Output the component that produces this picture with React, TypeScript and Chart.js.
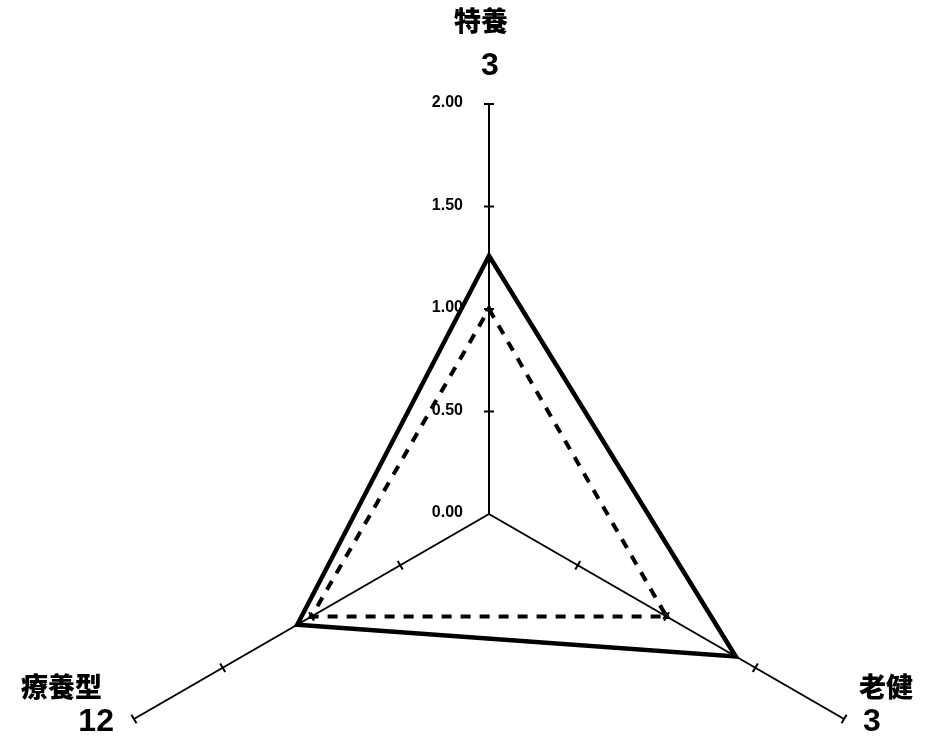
import React, { useEffect, useRef } from "react";
import { Chart, registerables } from "chart.js";

Chart.register(...registerables);

const categories = ["特養", "老健", "療養型"];
const facilityCounts = ["3", "3", "12"];
const actualValues = [1.26, 1.39, 1.08];
const baselineValues = [1.0, 1.0, 1.0];
const tickValues = [0, 0.5, 1.0, 1.5, 2.0];
const scaleMin = 0;
const scaleMax = 2;

// layout (not data)
const CENTER_X = 489;
const CENTER_Y = 514;
const RADIUS = 410;

const placeScale = {
  id: "placeScale",
  afterLayout(chart: any) {
    const s = chart.scales.r;
    s.xCenter = CENTER_X;
    s.yCenter = CENTER_Y;
    s.drawingArea = RADIUS;
  },
};

const axisDecor = {
  id: "axisDecor",
  beforeDatasetsDraw(chart: any) {
    const s = chart.scales.r;
    const ctx = chart.ctx;
    ctx.save();
    // tick marks on each axis
    ctx.strokeStyle = "#000";
    ctx.lineWidth = 2;
    for (let i = 0; i < categories.length; i++) {
      const ang = s.getIndexAngle(i) - Math.PI / 2;
      const px = -Math.sin(ang);
      const py = Math.cos(ang);
      for (const v of tickValues) {
        if (v === scaleMin) continue;
        const p = s.getPointPosition(i, s.getDistanceFromCenterForValue(v));
        ctx.beginPath();
        ctx.moveTo(p.x - px * 5, p.y - py * 5);
        ctx.lineTo(p.x + px * 5, p.y + py * 5);
        ctx.stroke();
      }
    }
    // tick labels left of the top axis
    ctx.fillStyle = "#000";
    ctx.font = "bold 16px 'Liberation Sans', Arial, sans-serif";
    ctx.textAlign = "right";
    ctx.textBaseline = "middle";
    for (const v of tickValues) {
      const p = s.getPointPosition(0, s.getDistanceFromCenterForValue(v));
      ctx.fillText(v.toFixed(2), p.x - 26, p.y - 1);
    }
    ctx.restore();
  },
  afterDraw(chart: any) {
    const s = chart.scales.r;
    const ctx = chart.ctx;
    ctx.save();
    ctx.fillStyle = "#000";
    ctx.textBaseline = "middle";
    const catFont = "900 27px 'Noto Sans CJK JP', sans-serif";
    const numFont = "bold 32px 'Liberation Sans', Arial, sans-serif";
    const ends = categories.map((_, i) =>
      s.getPointPosition(i, s.getDistanceFromCenterForValue(scaleMax))
    );
    // top
    ctx.textAlign = "center";
    ctx.font = catFont;
    ctx.fillText(categories[0], ends[0].x - 8, ends[0].y - 83);
    ctx.font = numFont;
    ctx.fillText(facilityCounts[0], ends[0].x + 1, ends[0].y - 38);
    // bottom right
    ctx.textAlign = "left";
    ctx.font = catFont;
    ctx.fillText(categories[1], ends[1].x + 15, ends[1].y - 32);
    ctx.font = numFont;
    ctx.fillText(facilityCounts[1], ends[1].x + 19, ends[1].y + 3);
    // bottom left
    ctx.textAlign = "right";
    ctx.font = catFont;
    ctx.fillText(categories[2], ends[2].x - 32, ends[2].y - 32);
    ctx.font = numFont;
    ctx.fillText(facilityCounts[2], ends[2].x - 20, ends[2].y + 3);
    ctx.restore();
  },
};

export default function App() {
  const ref = useRef<HTMLCanvasElement | null>(null);
  useEffect(() => {
    if (!ref.current) return;
    const chart = new Chart(ref.current, {
      type: "radar",
      data: {
        labels: categories,
        datasets: [
          {
            label: "基準",
            data: baselineValues,
            borderColor: "#000",
            borderWidth: 4,
            borderDash: [10, 9],
            fill: false,
            pointStyle: "triangle",
            pointRadius: 4,
            pointBackgroundColor: "#000",
            pointBorderColor: "#000",
            pointBorderWidth: 1,
          },
          {
            label: "実績",
            data: actualValues,
            borderColor: "#000",
            borderWidth: 4.5,
            fill: false,
            pointRadius: 0,
          },
        ],
      },
      options: {
        responsive: false,
        animation: false,
        plugins: {
          legend: { display: false },
          tooltip: { enabled: false },
        },
        elements: { line: { tension: 0 } },
        scales: {
          r: {
            min: scaleMin,
            max: scaleMax,
            startAngle: 0,
            grid: { display: false },
            angleLines: { display: true, color: "#000", lineWidth: 2 },
            ticks: { display: false, stepSize: 0.5 },
            pointLabels: { display: false },
          },
        },
      },
      plugins: [placeScale, axisDecor],
    });
    return () => chart.destroy();
  }, []);
  return (
    <div style={{ position: "absolute", left: 0, top: 0, width: 937, height: 744, background: "#fff" }}>
      <canvas ref={ref} width={937} height={744} />
    </div>
  );
}
